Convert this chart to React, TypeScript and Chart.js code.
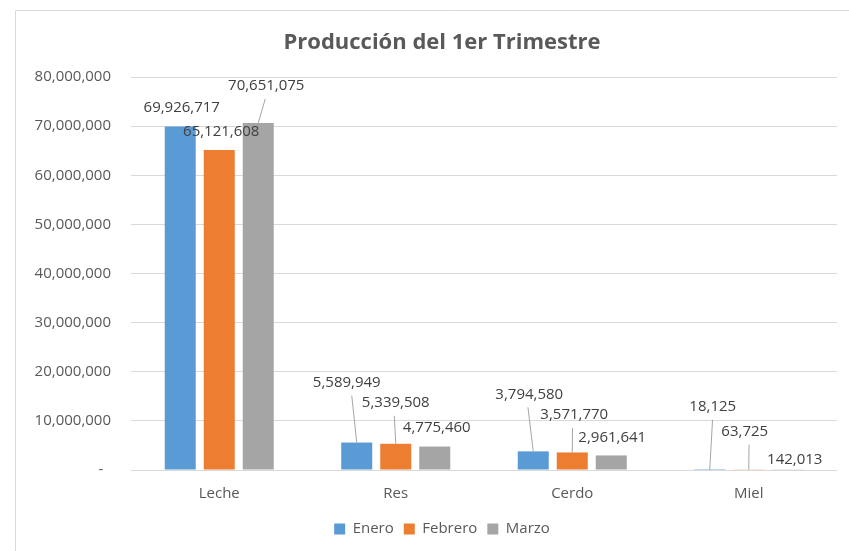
import React, { useEffect, useRef } from "react";
import { Chart, registerables } from "chart.js";

Chart.register(...registerables);

const chartTitle = "Producción del 1er Trimestre";
const categories = ["Leche", "Res", "Cerdo", "Miel"];
const seriesNames = ["Enero", "Febrero", "Marzo"];
const enero = [69926717, 5589949, 3794580, 18125];
const febrero = [65121608, 5339508, 3571770, 63725];
const marzo = [70651075, 4775460, 2961641, 142013];
const yMax = 80000000;
const yStep = 10000000;

const seriesColors = ["#5B9BD5", "#ED7D31", "#A5A5A5"];

// Label placement (style): [dx, dy, leader start dx | null] relative to bar top centre
const labelOffsets: (number | null)[][][] = [
  [[1.5, -18.5, null], [-10, -60, 5], [-4, -57, -1.3], [3, -63, -0.2]],
  [[2, -18.4, null], [0, -41, -1.5], [2, -37.5, -1.7], [-4, -38, 4.3]],
  [[8, -37, -1], [2, -18.5, null], [1, -17.5, null], [7, -9.3, null]],
];

const FONT = '"Open Sans", "Noto Sans", sans-serif';
const fmt = (v: number) => v.toLocaleString("en-US");

const framePlugin = {
  id: "frame",
  beforeDraw(chart: any) {
    const ctx = chart.ctx;
    ctx.save();
    ctx.fillStyle = "#ffffff";
    ctx.fillRect(0, 0, chart.width, chart.height);
    ctx.strokeStyle = "#d9d9d9";
    ctx.lineWidth = 1;
    ctx.beginPath();
    ctx.moveTo(15.5, chart.height);
    ctx.lineTo(15.5, 10.5);
    ctx.lineTo(chart.width, 10.5);
    ctx.stroke();
    ctx.restore();
  },
};

const labelPlugin = {
  id: "barLabels",
  afterDatasetsDraw(chart: any) {
    const ctx = chart.ctx;
    ctx.save();
    ctx.font = `15px ${FONT}`;
    ctx.textAlign = "center";
    ctx.textBaseline = "middle";
    chart.data.datasets.forEach((ds: any, i: number) => {
      const meta = chart.getDatasetMeta(i);
      meta.data.forEach((bar: any, j: number) => {
        const off = labelOffsets[i][j];
        const x = bar.x + (off[0] as number);
        const y = bar.y + (off[1] as number);
        if (off[2] !== null) {
          ctx.strokeStyle = "#a6a6a6";
          ctx.lineWidth = 1;
          ctx.beginPath();
          ctx.moveTo(x + (off[2] as number), y + 13);
          ctx.lineTo(bar.x, bar.y);
          ctx.stroke();
        }
        ctx.fillStyle = "#404040";
        ctx.fillText(fmt(ds.data[j]), x, y);
      });
    });
    ctx.restore();
  },
};

export default function App() {
  const ref = useRef<HTMLCanvasElement | null>(null);
  useEffect(() => {
    document.body.style.overflow = "hidden";
    document.documentElement.style.overflow = "hidden";
    const canvas = ref.current;
    if (!canvas) return;
    const seriesData = [enero, febrero, marzo];
    const chart = new Chart(canvas, {
      type: "bar",
      data: {
        labels: categories,
        datasets: seriesNames.map((name, i) => ({
          label: name,
          data: seriesData[i],
          backgroundColor: seriesColors[i],
          borderWidth: 0,
          categoryPercentage: 0.663,
          barPercentage: 0.795,
        })),
      },
      options: {
        responsive: false,
        animation: false,
        devicePixelRatio: 1,
        layout: { padding: { left: 20, right: 20, top: 0, bottom: 4.5 } },
        plugins: {
          title: {
            display: true,
            text: chartTitle,
            color: "#595959",
            font: { family: FONT, size: 22, weight: "bold" },
            padding: { top: 29.8, bottom: 20.8 },
          },
          legend: {
            position: "bottom",
            labels: {
              color: "#595959",
              font: { family: FONT, size: 15 },
              boxWidth: 11,
              boxHeight: 11,
              padding: 10,
            },
          },
          tooltip: { enabled: false },
        },
        scales: {
          x: {
            grid: { display: false, drawTicks: false },
            border: { display: false },
            ticks: { color: "#595959", font: { family: FONT, size: 15 }, padding: 15 },
            afterFit: (s: any) => {
              s.height = 41.5;
            },
          },
          y: {
            min: 0,
            max: yMax,
            grid: { color: "#d9d9d9", drawTicks: false },
            border: { display: false },
            ticks: {
              stepSize: yStep,
              color: "#595959",
              font: { family: FONT, size: 15 },
              padding: 20,
              callback: (v: any) => (Number(v) === 0 ? "-  " : fmt(Number(v))),
            },
            afterFit: (s: any) => {
              s.width = 111;
            },
          },
          yRightSpacer: {
            type: "linear",
            position: "right",
            display: true,
            grid: { display: false, drawTicks: false },
            border: { display: false },
            ticks: { display: false },
            afterFit: (s: any) => {
              s.width = 27;
            },
          },
        },
      },
      plugins: [framePlugin, labelPlugin],
    });
    return () => chart.destroy();
  }, []);
  return (
    <div style={{ position: "fixed", left: 0, top: 0, width: 884, height: 551 }}>
      <canvas ref={ref} width={884} height={551} />
    </div>
  );
}
